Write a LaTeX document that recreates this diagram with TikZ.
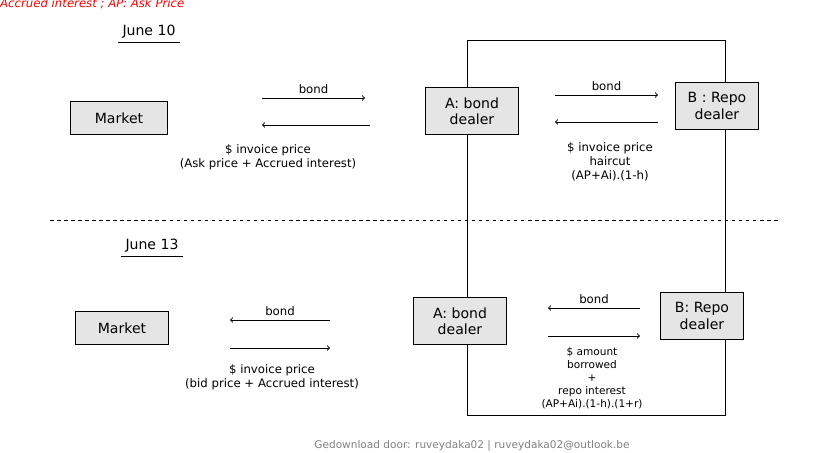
\documentclass[tikz,border=0pt]{standalone}
\usepackage{fontspec}
\setmainfont{DejaVu Sans}
\usetikzlibrary{positioning}
\tikzset{
    party/.style={draw, thick, fill=gray!20, align=center, font=\large, inner sep=2pt},
    flow/.style={thick, ->},
    note/.style={align=center}
}
\begin{document}
\begin{tikzpicture}[x=0.03cm, y=-0.03cm]
    \useasboundingbox (0, 0) rectangle (836, 453);
    \node[text=red, font=\itshape, anchor=west, inner sep=0pt] at (0, 4) {Accrued interest ; AP: Ask Price};

    % repo frame
    \draw[thick] (467, 40) rectangle (725, 415);

    % June 10
    \node[font=\large] (d1) at (149, 32) {June 10};
    \draw[thick] (d1.south west) -- (d1.south east);
    \node[party, minimum width=2.9cm, minimum height=1cm] (m1) at (119, 118) {Market};
    \node[party, minimum width=2.8cm, minimum height=1.4cm] (a1) at (472, 111) {A: bond\\dealer};
    \node[party, minimum width=2.5cm, minimum height=1.4cm] (b1) at (717, 106) {B : Repo\\dealer};
    \coordinate (p1) at (262, 98);  \coordinate (q1) at (365, 98);
    \coordinate (p2) at (262, 125); \coordinate (q2) at (370, 125);
    \draw[flow] (p1) -- node[above] {bond} (q1);
    \draw[flow] (q2) -- (p2);
    \node[note] at (268, 157) {\$ invoice price\\(Ask price + Accrued interest)};
    \coordinate (p3) at (555, 95);  \coordinate (q3) at (658, 95);
    \coordinate (p4) at (555, 122); \coordinate (q4) at (658, 122);
    \draw[flow] (p3) -- node[above] {bond} (q3);
    \draw[flow] (q4) -- (p4);
    \node[note, inner sep=0pt] at (610, 162) {\$ invoice price\\haircut\\(AP+Ai).(1-h)};

    \draw[thick, dashed] (50, 220) -- (780, 220);

    % June 13
    \node[font=\large] (d2) at (152, 246) {June 13};
    \draw[thick] (d2.south west) -- (d2.south east);
    \node[party, minimum width=2.8cm, minimum height=1cm] (m2) at (122, 328) {Market};
    \node[party, minimum width=2.8cm, minimum height=1.4cm] (a2) at (460, 321) {A: bond\\dealer};
    \node[party, minimum width=2.5cm, minimum height=1.4cm] (b2) at (702, 316) {B: Repo\\dealer};
    \coordinate (p5) at (230, 320); \coordinate (q5) at (330, 320);
    \coordinate (p6) at (230, 348); \coordinate (q6) at (330, 348);
    \draw[flow] (q5) -- node[above] {bond} (p5);
    \draw[flow] (p6) -- (q6);
    \node[note] at (272, 377) {\$ invoice price\\(bid price + Accrued interest)};
    \coordinate (p7) at (548, 308); \coordinate (q7) at (640, 308);
    \coordinate (p8) at (548, 336); \coordinate (q8) at (640, 336);
    \draw[flow] (q7) -- node[above] {bond} (p7);
    \draw[flow] (p8) -- (q8);
    \node[note, font=\small, inner sep=0pt] at (592, 378) {\$ amount\\borrowed\\+\\repo interest\\(AP+Ai).(1-h).(1+r)};

    \node[text=gray, font=\small] at (472, 446) {Gedownload door: ruveydaka02 | ruveydaka02@outlook.be};
\end{tikzpicture}
\end{document}
